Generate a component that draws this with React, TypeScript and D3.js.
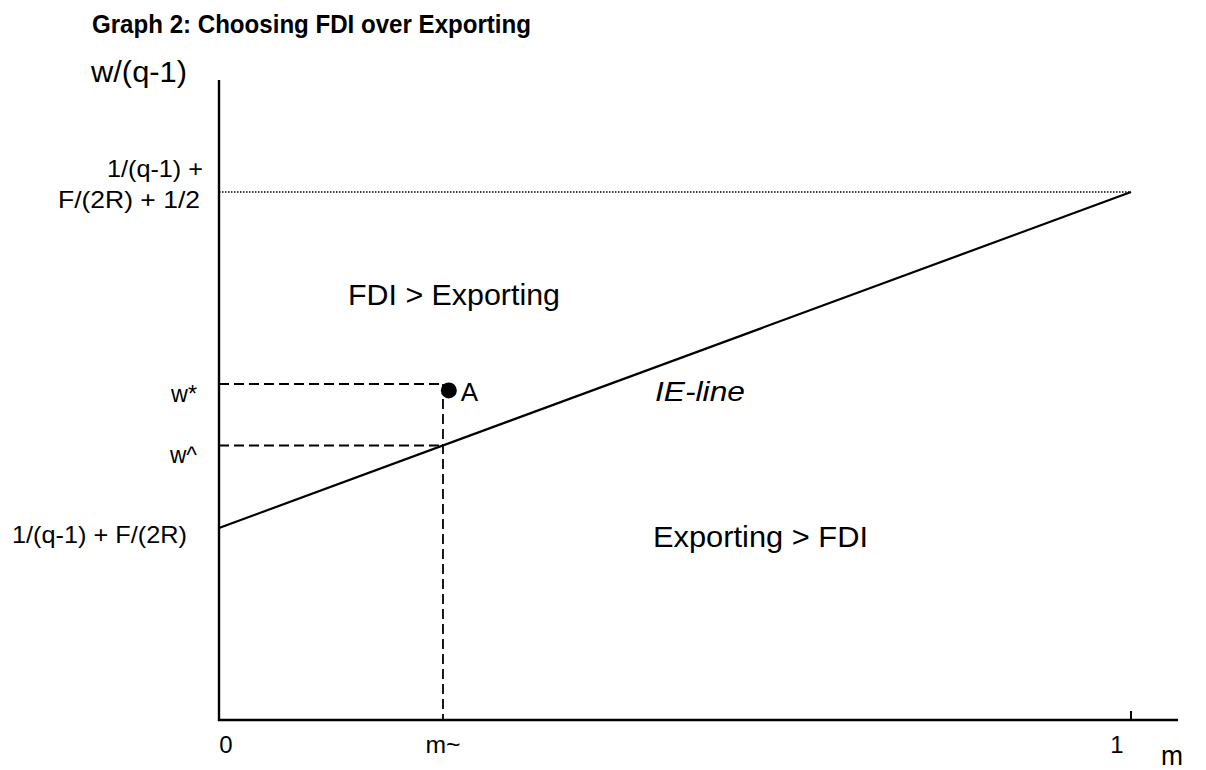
import React, { useEffect, useRef } from "react";
import * as d3 from "d3";

// values in plot units
const wLow = 0.3; // 1/(q-1) + F/(2R)
const wHigh = 0.825; // 1/(q-1) + F/(2R) + 1/2
const yMax = 1.0;
const mTilde = 0.2456;
const wStar = 0.525;
const pointA = { m: 0.252, w: 0.515 };

const xTicks = [
  { m: 0, label: "0" },
  { m: mTilde, label: "m~" },
  { m: 1, label: "1" },
];
const ieLine = [
  { m: 0, w: wLow },
  { m: 1, w: wHigh },
];

const FONT = "'Liberation Sans', Arial, sans-serif";

const App = () => {
  const svgRef = useRef<SVGSVGElement>(null);

  useEffect(() => {
    const svg = d3.select(svgRef.current);
    svg.selectAll("*").remove();

    const width = 1206;
    const height = 770;
    const x = d3.scaleLinear().domain([0, 1]).range([219, 1131]);
    const y = d3.scaleLinear().domain([0, yMax]).range([720, 80]);
    const ieAt = (m: number) => wLow + (wHigh - wLow) * m;
    const wHat = ieAt(mTilde);

    svg.attr("width", width).attr("height", height);
    const g = svg.append("g");

    const text = (
      s: string,
      tx: number,
      ty: number,
      size: number,
      opts: { anchor?: string; len?: number; weight?: string; italic?: boolean } = {}
    ) => {
      const t = g
        .append("text")
        .attr("x", tx)
        .attr("y", ty)
        .attr("font-family", FONT)
        .attr("font-size", size)
        .attr("fill", "#000")
        .attr("text-anchor", opts.anchor || "start")
        .text(s);
      if (opts.weight) t.attr("font-weight", opts.weight);
      if (opts.italic) t.attr("font-style", "italic");
      if (opts.len) t.attr("textLength", opts.len).attr("lengthAdjust", "spacingAndGlyphs");
      return t;
    };

    // dotted line at the top value
    g.append("line")
      .attr("x1", x(0))
      .attr("x2", x(1))
      .attr("y1", y(wHigh))
      .attr("y2", y(wHigh))
      .attr("stroke", "#000")
      .attr("stroke-width", 1.5)
      .attr("stroke-dasharray", "1.5,1.5");

    // dashed guides
    const dash = "10,5";
    [wStar, wHat].forEach((w) => {
      g.append("line")
        .attr("x1", x(0))
        .attr("x2", x(mTilde))
        .attr("y1", y(w))
        .attr("y2", y(w))
        .attr("stroke", "#000")
        .attr("stroke-width", 1.8)
        .attr("stroke-dasharray", dash);
    });
    g.append("line")
      .attr("x1", x(mTilde))
      .attr("x2", x(mTilde))
      .attr("y1", y(wStar))
      .attr("y2", y(0))
      .attr("stroke", "#000")
      .attr("stroke-width", 1.8)
      .attr("stroke-dasharray", dash);

    // IE line
    const line = d3
      .line<{ m: number; w: number }>()
      .x((d) => x(d.m))
      .y((d) => y(d.w));
    g.append("path")
      .datum(ieLine)
      .attr("d", line)
      .attr("fill", "none")
      .attr("stroke", "#000")
      .attr("stroke-width", 2.2);

    // axes
    g.append("line")
      .attr("x1", x(0))
      .attr("x2", x(0))
      .attr("y1", y(yMax))
      .attr("y2", y(0) + 1)
      .attr("stroke", "#000")
      .attr("stroke-width", 2.4);
    g.append("line")
      .attr("x1", x(0) - 1)
      .attr("x2", 1178)
      .attr("y1", y(0))
      .attr("y2", y(0))
      .attr("stroke", "#000")
      .attr("stroke-width", 2.4);
    g.append("line")
      .attr("x1", x(1))
      .attr("x2", x(1))
      .attr("y1", y(0) - 9)
      .attr("y2", y(0))
      .attr("stroke", "#000")
      .attr("stroke-width", 2);

    // point A
    g.append("circle")
      .attr("cx", x(pointA.m))
      .attr("cy", y(pointA.w))
      .attr("r", 8)
      .attr("fill", "#000");

    // titles
    text("Graph 2: Choosing FDI over Exporting", 92, 33, 25, { weight: "bold", len: 439 });
    text("w/(q-1)", 91, 82, 29, { len: 96 });

    // y labels
    text("1/(q-1) +", 203, 177, 24, { anchor: "end", len: 96 });
    text("F/(2R) + 1/2", 200, 208, 24, { anchor: "end", len: 142 });
    text("w*", 197, y(wStar) + 18, 24, { anchor: "end", len: 26 });
    text("w^", 197, y(wHat) + 18, 24, { anchor: "end", len: 27 });
    text("1/(q-1) + F/(2R)", 187, y(wLow) + 15, 24, { anchor: "end", len: 175 });

    // x labels
    xTicks.forEach((t) => {
      const s = text(t.label, x(t.m) - (t.m === 1 ? 14 : t.m === 0 ? -7 : 0), 753, 24, { anchor: "middle" });
      if (t.label.length > 1) s.attr("textLength", 35).attr("lengthAdjust", "spacingAndGlyphs");
    });
    text("m", 1172, 765, 28, { anchor: "middle", len: 22 });

    // region labels
    text("FDI > Exporting", 348, 305, 30, { len: 212 });
    text("Exporting > FDI", 653, 547, 30, { len: 215 });
    text("IE-line", 655, 401, 28, { italic: true, len: 90 });
    text("A", x(pointA.m) + 12, 401, 26);
  }, []);

  return (
    <div style={{ position: "absolute", left: 0, top: 0 }}>
      <svg ref={svgRef}></svg>
    </div>
  );
};

export default App;
